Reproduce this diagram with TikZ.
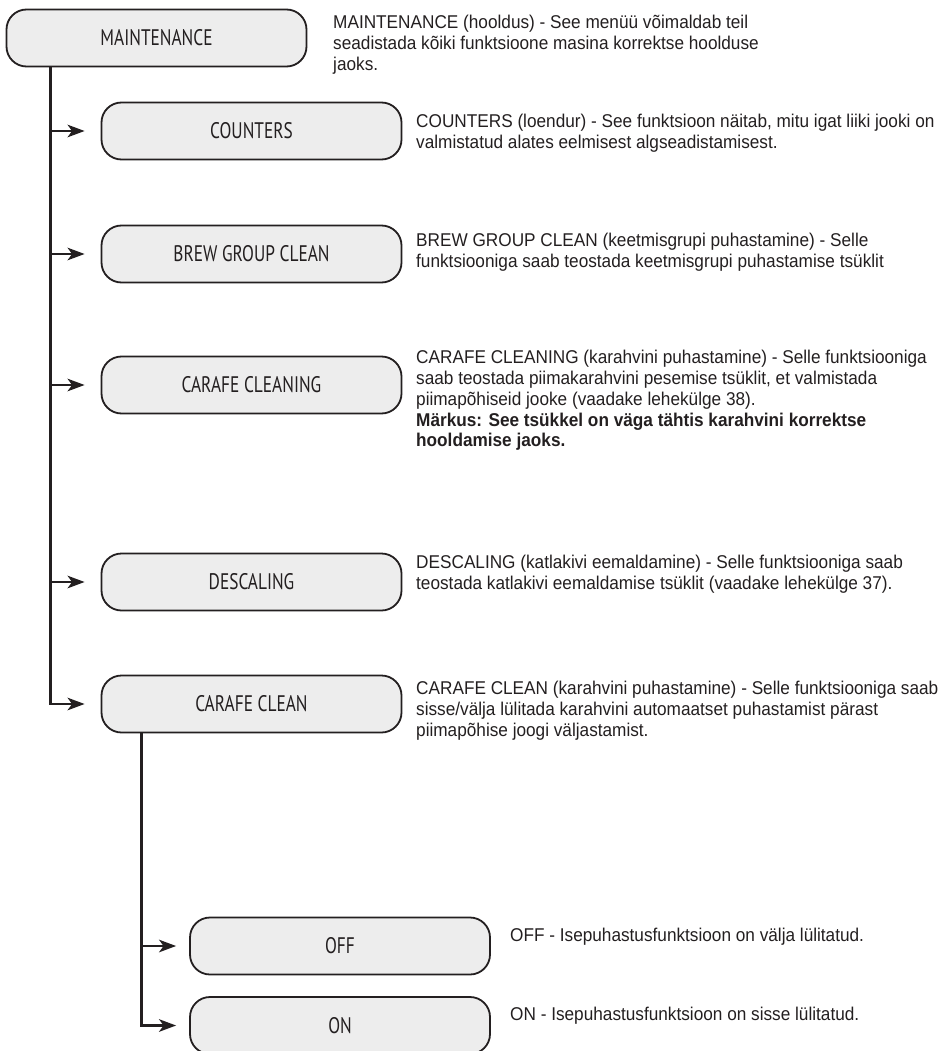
\documentclass[tikz,border=0pt]{standalone}
\usepackage{fontspec}
\setmainfont[FakeStretch=0.93]{Liberation Sans}
\newfontfamily\menufont[FakeStretch=0.77]{PT Sans}
\usetikzlibrary{arrows.meta}
\definecolor{ink}{HTML}{231F20}
\definecolor{boxgray}{HTML}{EDEDED}
\begin{document}
\begin{tikzpicture}[x=1pt,y=-1pt,>={Stealth[length=17pt,width=12.5pt,inset=4.5pt]},
  menu/.style={draw=ink,line width=1.8pt,fill=boxgray,rounded corners=20pt,minimum width=300pt,minimum height=57pt,inner sep=0pt,text=ink,font=\menufont\fontsize{22.5}{22.5}\selectfont},
  note/.style={anchor=north west,align=left,inner sep=0pt,text=ink,font=\fontsize{18.5}{20.8}\selectfont},
  link/.style={->,draw=ink,line width=2.4pt}]
\useasboundingbox (0,0) rectangle (943,1051);

\node[menu] (maint) at (156.5,38) {MAINTENANCE};
\node[menu] (counters) at (251.5,131) {COUNTERS};
\node[menu] (brew) at (251.5,254) {BREW GROUP CLEAN};
\node[menu] (cleaning) at (251.5,385) {CARAFE CLEANING};
\node[menu] (descaling) at (251.5,582) {DESCALING};
\node[menu] (clean) at (251.5,704) {CARAFE CLEAN};
\node[menu] (off) at (340,946) {OFF};
\node[menu] (on) at (340,1025.5) {ON};

% main branch
\coordinate (trunk) at ([xshift=45pt]maint.south west);
\draw[link,shorten >=16pt] (trunk) |- (clean.west);
\foreach \n in {counters,brew,cleaning,descaling}
  \draw[link,shorten >=16pt] (trunk |- \n.west) -- (\n.west);

% carafe clean branch
\coordinate (subtrunk) at ([xshift=41pt]clean.south west);
\draw[link,shorten >=13pt] (subtrunk) |- (on.west);
\draw[link,shorten >=13pt] (subtrunk |- off.west) -- (off.west);

\node[note] (maintnote) at (333,15) {MAINTENANCE (hooldus) - See menüü võimaldab teil\\seadistada kõiki funktsioone masina korrektse hoolduse\\jaoks.};
\node[note] (countersnote) at (416,114) {COUNTERS (loendur) - See funktsioon näitab, mitu igat liiki jooki on\\valmistatud alates eelmisest algseadistamisest.};
\node[note] (brewnote) at (416,233) {BREW GROUP CLEAN (keetmisgrupi puhastamine) - Selle\\funktsiooniga saab teostada keetmisgrupi puhastamise tsüklit};
\node[note] (cleaningnote) at (416,350) {CARAFE CLEANING (karahvini puhastamine) - Selle funktsiooniga\\saab teostada piimakarahvini pesemise tsüklit, et valmistada\\piimapõhiseid jooke (vaadake lehekülge 38).\\\textbf{Märkus: See tsükkel on väga tähtis karahvini korrektse}\\\textbf{hooldamise jaoks.}};
\node[note] (descalingnote) at (416,555) {DESCALING (katlakivi eemaldamine) - Selle funktsiooniga saab\\teostada katlakivi eemaldamise tsüklit (vaadake lehekülge 37).};
\node[note] (cleannote) at (416,681) {CARAFE CLEAN (karahvini puhastamine) - Selle funktsiooniga saab\\sisse/välja lülitada karahvini automaatset puhastamist pärast\\piimapõhise joogi väljastamist.};
\node[note] (offnote) at (510,928) {OFF - Isepuhastusfunktsioon on välja lülitatud.};
\node[note] (onnote) at (510,1007) {ON - Isepuhastusfunktsioon on sisse lülitatud.};
\end{tikzpicture}
\end{document}
